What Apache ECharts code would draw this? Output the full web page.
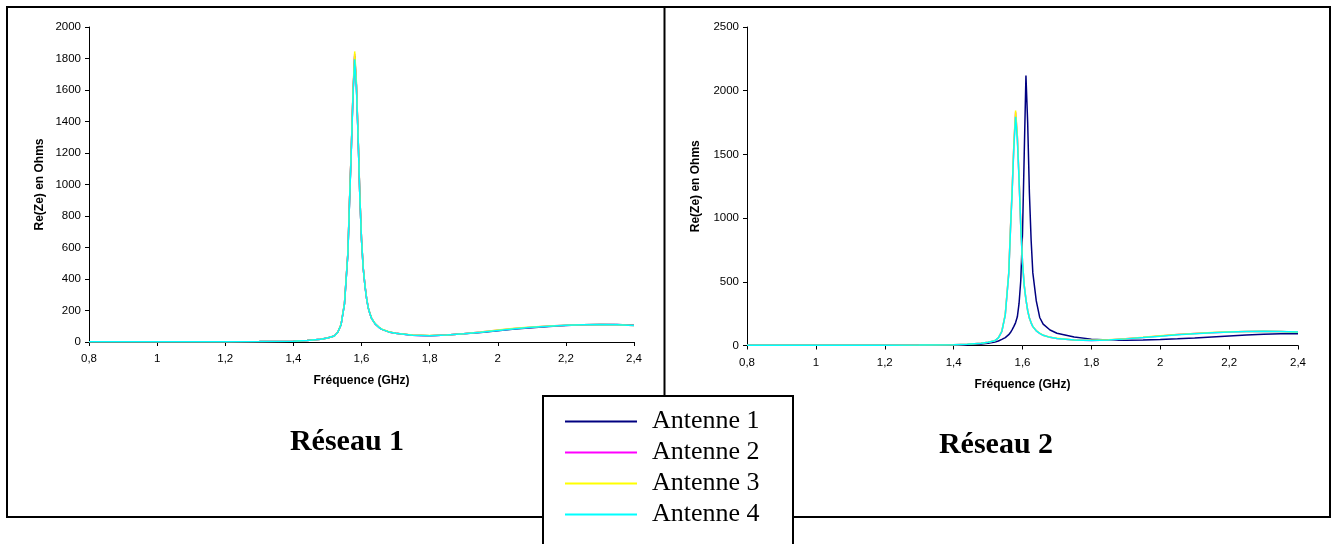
<!DOCTYPE html>
<html>
<head>
<meta charset="utf-8">
<script src="https://cdn.jsdelivr.net/npm/echarts@6/dist/echarts.min.js"></script>
<style>
  html, body { margin: 0; padding: 0; background: #ffffff; }
  #chart { width: 1334px; height: 544px; }
</style>
</head>
<body>
<div id="chart"></div>
<script>
// Frequency samples (GHz), denser around the resonance
const freq = [0.80, 0.90, 1.00, 1.10, 1.20, 1.30, 1.40, 1.44, 1.48, 1.50,
  1.52, 1.53, 1.54, 1.55, 1.56, 1.565, 1.57, 1.575, 1.58, 1.585,
  1.59, 1.595, 1.60, 1.605, 1.61, 1.615, 1.62, 1.625, 1.63, 1.64,
  1.65, 1.66, 1.68, 1.70, 1.75, 1.80, 1.85, 1.90, 1.95, 2.00,
  2.05, 2.10, 2.15, 2.20, 2.25, 2.30, 2.35, 2.40];

// Re(Ze) in ohms
const reseau1Antenne1 = [2, 2, 2, 2, 2, 3, 5, 9, 17, 25,
  38, 60, 110, 242, 562, 905, 1220, 1575, 1815, 1630,
  1305, 932, 650, 470, 360, 275, 215, 178, 148, 115,
  95, 80, 64, 55, 43, 40, 44, 52, 61, 72,
  82, 91, 99, 105, 109, 111, 111, 106];
const reseau2Antenne1 = [1, 1, 1, 1, 1, 2, 4, 6, 12, 18,
  28, 35, 48, 62, 85, 102, 125, 150, 180, 225,
  330, 510, 880, 1500, 2120, 1750, 1200, 830, 570, 350,
  220, 168, 122, 96, 66, 50, 44, 42, 44, 48,
  53, 59, 67, 75, 82, 88, 92, 93];
const antenne2 = [2, 2, 2, 2, 2, 3, 5, 9, 17, 25,
  38, 60, 111, 243, 565, 910, 1225, 1580, 1830, 1640,
  1310, 935, 652, 471, 361, 275, 215, 178, 148, 115,
  95, 80, 64, 55, 43, 40, 44, 53, 63, 75,
  86, 94, 101, 106, 110, 111, 110, 104];
const antenne3 = [2, 2, 2, 2, 2, 3, 5, 9, 17, 25,
  38, 60, 112, 245, 570, 915, 1230, 1590, 1845, 1650,
  1320, 940, 655, 472, 362, 276, 216, 179, 149, 116,
  96, 81, 65, 56, 44, 41, 45, 53, 64, 76,
  87, 95, 102, 107, 110, 111, 110, 104];
const antenne4 = [2, 2, 2, 2, 2, 3, 5, 9, 17, 25,
  38, 60, 110, 240, 560, 900, 1210, 1560, 1795, 1620,
  1300, 930, 650, 470, 360, 275, 215, 178, 148, 115,
  95, 80, 64, 55, 43, 40, 44, 52, 62, 73,
  84, 93, 100, 106, 110, 111, 110, 105];

const names = ['Antenne 1', 'Antenne 2', 'Antenne 3', 'Antenne 4'];
const colors = ['#000080', '#ff00ff', '#ffff00', '#00ffff'];
const panelTitles = ['Réseau 1', 'Réseau 2'];

const pair = arr => freq.map((f, i) => [f, arr[i]]);
const commaNum = v => String(+Number(v).toFixed(1)).replace('.', ',');
const plainNum = v => String(Math.round(v));

const labelFont = { fontFamily: 'Liberation Sans, Arial, sans-serif', fontSize: 11.5, color: '#000' };
const nameFont = { fontFamily: 'Liberation Sans, Arial, sans-serif', fontSize: 12, fontWeight: 'bold', color: '#000' };

function xAxisFor(gridIndex) {
  return {
    type: 'value', gridIndex, min: 0.8, max: 2.4, interval: 0.2,
    name: 'Fréquence (GHz)', nameLocation: 'middle', nameGap: 33, nameTextStyle: nameFont,
    axisLine: { show: true, onZero: false, lineStyle: { color: '#000', width: 1 } },
    axisTick: { show: true, length: 4, lineStyle: { color: '#000' } },
    axisLabel: Object.assign({ margin: 11, formatter: commaNum }, labelFont),
    splitLine: { show: false }
  };
}
function yAxisFor(gridIndex, max, interval, gap) {
  return {
    type: 'value', gridIndex, min: 0, max, interval,
    name: 'Re(Ze) en Ohms', nameLocation: 'middle', nameGap: gap, nameTextStyle: nameFont,
    axisLine: { show: true, lineStyle: { color: '#000', width: 1 } },
    axisTick: { show: true, length: 4, lineStyle: { color: '#000' } },
    axisLabel: Object.assign({ margin: 8, formatter: plainNum }, labelFont),
    splitLine: { show: false }
  };
}

const seriesData = [
  [reseau1Antenne1, antenne2, antenne3, antenne4],
  [reseau2Antenne1, antenne2, antenne3, antenne4]
];
const series = [];
seriesData.forEach((group, g) => {
  group.forEach((arr, k) => {
    series.push({
      type: 'line', name: names[k], xAxisIndex: g, yAxisIndex: g,
      data: pair(arr), showSymbol: false, symbol: 'none',
      lineStyle: { color: colors[k], width: 1.5 }, itemStyle: { color: colors[k] },
      emphasis: { disabled: true }
    });
  });
});

const frame = { stroke: '#000', lineWidth: 2, fill: null };

const chart = echarts.init(document.getElementById('chart'), null, { renderer: 'canvas' });
chart.setOption({
  animation: false,
  backgroundColor: '#ffffff',
  grid: [
    { left: 89, width: 545, top: 27, height: 315 },
    { left: 747, width: 551, top: 27, height: 318.5 }
  ],
  xAxis: [xAxisFor(0), xAxisFor(1)],
  yAxis: [yAxisFor(0, 2000, 200, 43), yAxisFor(1, 2500, 500, 45)],
  legend: {
    orient: 'vertical', left: 565, top: 406, padding: 0, itemGap: 0,
    itemWidth: 72, itemHeight: 2, icon: 'rect',
    data: names,
    textStyle: { fontFamily: 'Liberation Serif, Times New Roman, serif', fontSize: 26, lineHeight: 31, color: '#000', padding: [0, 0, 0, 10] }
  },
  graphic: [
    { type: 'polyline', silent: true, shape: { points: [[543, 517], [7, 517], [7, 7], [1330, 7], [1330, 517], [793, 517]] }, style: frame },
    { type: 'line', silent: true, shape: { x1: 664.5, y1: 7, x2: 664.5, y2: 396 }, style: frame },
    { type: 'rect', silent: true, shape: { x: 543, y: 396, width: 250, height: 160 }, style: frame },
    { type: 'text', silent: true, style: { text: panelTitles[0], x: 347, y: 442, textAlign: 'center', textVerticalAlign: 'middle', font: 'bold 30px "Liberation Serif", "Times New Roman", serif', fill: '#000' } },
    { type: 'text', silent: true, style: { text: panelTitles[1], x: 996, y: 445, textAlign: 'center', textVerticalAlign: 'middle', font: 'bold 30px "Liberation Serif", "Times New Roman", serif', fill: '#000' } }
  ],
  series
});
</script>
</body>
</html>
